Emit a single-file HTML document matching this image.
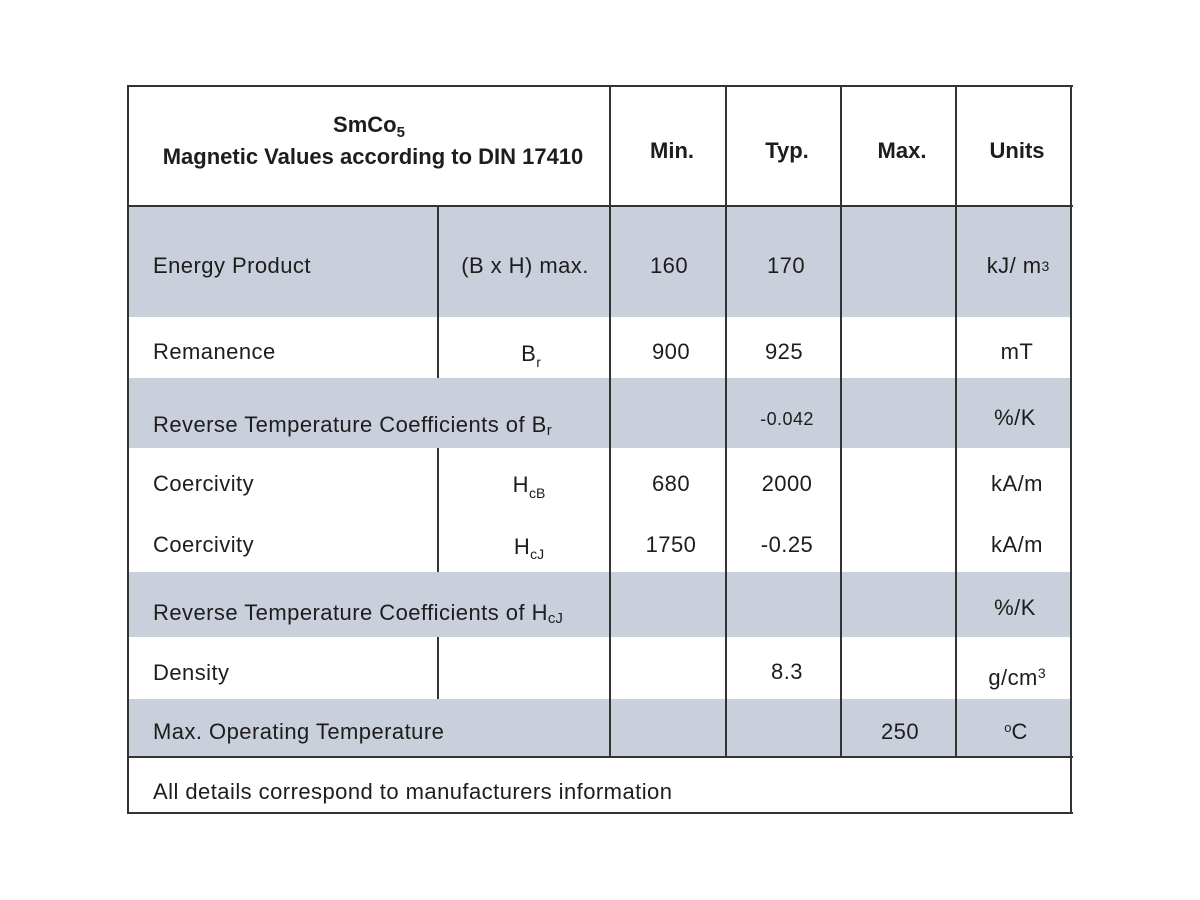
<!DOCTYPE html>
<html>
<head>
<meta charset="utf-8">
<style>
  html,body{margin:0;padding:0;background:#fff;}
  #c{position:relative;width:1200px;height:900px;overflow:hidden;background:#fff;
     font-family:"Liberation Sans",Arial,sans-serif;color:#1e1c1d;}
  .g{position:absolute;background:#c9d0db;}
  .h{position:absolute;height:2px;background:#333;}
  .v{position:absolute;width:2px;background:#333;}
  .t{position:absolute;font-size:22px;line-height:22px;white-space:nowrap;letter-spacing:0.45px;}
  .c{width:200px;text-align:center;}
  .b{font-weight:bold;letter-spacing:0;}
  .s{font-size:18px;line-height:18px;}
  .sub{font-size:14px;position:relative;top:6px;letter-spacing:0;}
  .sub2{font-size:15px;position:relative;top:3px;letter-spacing:0;}
  .sup{font-size:14px;position:relative;top:-7px;letter-spacing:0;}
  .sup2{font-size:14px;position:relative;top:-2px;letter-spacing:0;}
</style>
</head>
<body>
<div id="c">
  <!-- gray bands -->
  <div class="g" style="left:129px;top:207px;width:942px;height:110px;"></div>
  <div class="g" style="left:129px;top:378px;width:942px;height:70px;"></div>
  <div class="g" style="left:129px;top:572px;width:942px;height:65px;"></div>
  <div class="g" style="left:129px;top:699px;width:942px;height:57px;"></div>

  <!-- horizontal lines -->
  <div class="h" style="left:127px;top:85px;width:946px;"></div>
  <div class="h" style="left:127px;top:205px;width:946px;"></div>
  <div class="h" style="left:127px;top:756px;width:946px;"></div>
  <div class="h" style="left:127px;top:812px;width:946px;"></div>

  <!-- vertical lines -->
  <div class="v" style="left:127px;top:85px;height:729px;"></div>
  <div class="v" style="left:1070px;top:85px;height:729px;"></div>
  <div class="v" style="left:609px;top:85px;height:672px;"></div>
  <div class="v" style="left:725px;top:85px;height:672px;"></div>
  <div class="v" style="left:840px;top:85px;height:672px;"></div>
  <div class="v" style="left:955px;top:85px;height:672px;"></div>
  <div class="v" style="left:437px;top:205px;height:173px;"></div>
  <div class="v" style="left:437px;top:448px;height:124px;"></div>
  <div class="v" style="left:437px;top:637px;height:62px;"></div>

  <!-- header -->
  <div class="t b" style="left:169px;width:400px;text-align:center;top:114px;">SmCo<span class="sub2" style="font-size:15px;top:5px;">5</span></div>
  <div class="t b" style="left:123px;width:500px;text-align:center;top:146px;">Magnetic Values according to DIN 17410</div>
  <div class="t b c" style="left:572px;top:140px;">Min.</div>
  <div class="t b c" style="left:687px;top:140px;">Typ.</div>
  <div class="t b c" style="left:802px;top:140px;">Max.</div>
  <div class="t b c" style="left:917px;top:140px;">Units</div>

  <!-- row 1 -->
  <div class="t" style="left:153px;top:255px;">Energy Product</div>
  <div class="t c" style="left:425px;top:255px;">(B x H) max.</div>
  <div class="t c" style="left:569px;top:255px;">160</div>
  <div class="t c" style="left:686px;top:255px;">170</div>
  <div class="t c" style="left:918px;top:255px;">kJ/ m<span class="sup2">3</span></div>

  <!-- row 2 -->
  <div class="t" style="left:153px;top:341px;">Remanence</div>
  <div class="t c" style="left:431px;top:343px;">B<span class="sub">r</span></div>
  <div class="t c" style="left:571px;top:341px;">900</div>
  <div class="t c" style="left:684px;top:341px;">925</div>
  <div class="t c" style="left:917px;top:341px;">mT</div>

  <!-- row 3 -->
  <div class="t" style="left:153px;top:414px;">Reverse Temperature Coefficients of B<span class="sub2">r</span></div>
  <div class="t s c" style="left:687px;top:410px;">-0.042</div>
  <div class="t c" style="left:915px;top:407px;">%/K</div>

  <!-- row 4 -->
  <div class="t" style="left:153px;top:473px;">Coercivity</div>
  <div class="t c" style="left:429px;top:474px;">H<span class="sub">cB</span></div>
  <div class="t c" style="left:571px;top:473px;">680</div>
  <div class="t c" style="left:687px;top:473px;">2000</div>
  <div class="t c" style="left:917px;top:473px;">kA/m</div>

  <!-- row 5 -->
  <div class="t" style="left:153px;top:534px;">Coercivity</div>
  <div class="t c" style="left:429px;top:536px;">H<span class="sub" style="top:5px;">cJ</span></div>
  <div class="t c" style="left:571px;top:534px;">1750</div>
  <div class="t c" style="left:687px;top:534px;">-0.25</div>
  <div class="t c" style="left:917px;top:534px;">kA/m</div>

  <!-- row 6 -->
  <div class="t" style="left:153px;top:602px;">Reverse Temperature Coefficients of H<span class="sub2">cJ</span></div>
  <div class="t c" style="left:915px;top:597px;">%/K</div>

  <!-- row 7 -->
  <div class="t" style="left:153px;top:662px;">Density</div>
  <div class="t c" style="left:687px;top:661px;">8.3</div>
  <div class="t c" style="left:917px;top:667px;">g/cm<span class="sup">3</span></div>

  <!-- row 8 -->
  <div class="t" style="left:153px;top:721px;">Max. Operating Temperature</div>
  <div class="t c" style="left:800px;top:721px;">250</div>
  <div class="t c" style="left:916px;top:721px;"><span class="sup" style="font-size:13px;">o</span>C</div>

  <!-- footer -->
  <div class="t" style="left:153px;top:781px;">All details correspond to manufacturers information</div>
</div>
</body>
</html>
